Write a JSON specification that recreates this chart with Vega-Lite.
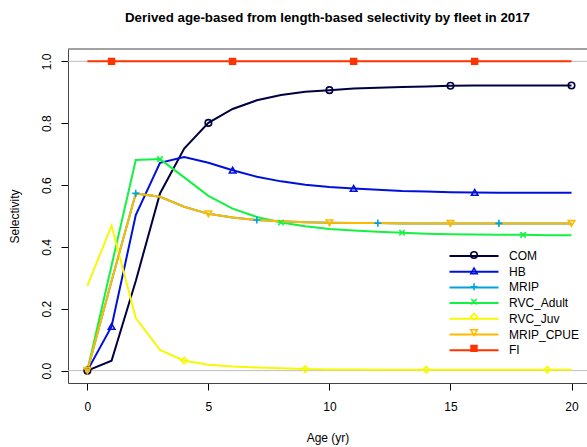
{
  "$schema": "https://vega.github.io/schema/vega-lite/v6.json",
  "width": 519,
  "height": 334,
  "autosize": {"type": "none"},
  "padding": {"left": 68, "top": 49, "right": 0, "bottom": 64},
  "background": "white",
  "config": {
    "view": {"stroke": null},
    "font": "Liberation Sans",
    "axis": {"grid": false, "labelFont": "Liberation Sans", "titleFont": "Liberation Sans", "labelColor": "black", "titleColor": "black", "tickColor": "black", "domainColor": "#444444", "labelFontSize": 12, "titleFontSize": 12, "titleFontWeight": "normal", "tickSize": 7, "labelFlush": false, "labelOverlap": false},
    "legend": {"labelFont": "Liberation Sans", "labelFontSize": 12, "labelColor": "black", "padding": 0, "labelOffset": 29}
  },
  "title": {"text": "Derived age-based from length-based selectivity by fleet in 2017", "font": "Liberation Sans", "fontSize": 13.3, "fontWeight": "bold", "color": "black", "anchor": "middle", "baseline": "bottom", "offset": 10},
  "data": {"values": [
    {"fleet": "COM", "age": 0, "sel": 0}, {"fleet": "COM", "age": 1, "sel": 0.032}, {"fleet": "COM", "age": 2, "sel": 0.29}, {"fleet": "COM", "age": 3, "sel": 0.573}, {"fleet": "COM", "age": 4, "sel": 0.718}, {"fleet": "COM", "age": 5, "sel": 0.801}, {"fleet": "COM", "age": 6, "sel": 0.846}, {"fleet": "COM", "age": 7, "sel": 0.874}, {"fleet": "COM", "age": 8, "sel": 0.891}, {"fleet": "COM", "age": 9, "sel": 0.902}, {"fleet": "COM", "age": 10, "sel": 0.907}, {"fleet": "COM", "age": 11, "sel": 0.912}, {"fleet": "COM", "age": 12, "sel": 0.915}, {"fleet": "COM", "age": 13, "sel": 0.917}, {"fleet": "COM", "age": 14, "sel": 0.919}, {"fleet": "COM", "age": 15, "sel": 0.921}, {"fleet": "COM", "age": 16, "sel": 0.922}, {"fleet": "COM", "age": 17, "sel": 0.922}, {"fleet": "COM", "age": 18, "sel": 0.922}, {"fleet": "COM", "age": 19, "sel": 0.922}, {"fleet": "COM", "age": 20, "sel": 0.922},
    {"fleet": "HB", "age": 0, "sel": 0}, {"fleet": "HB", "age": 1, "sel": 0.143}, {"fleet": "HB", "age": 2, "sel": 0.503}, {"fleet": "HB", "age": 3, "sel": 0.672}, {"fleet": "HB", "age": 4, "sel": 0.691}, {"fleet": "HB", "age": 5, "sel": 0.672}, {"fleet": "HB", "age": 6, "sel": 0.648}, {"fleet": "HB", "age": 7, "sel": 0.627}, {"fleet": "HB", "age": 8, "sel": 0.612}, {"fleet": "HB", "age": 9, "sel": 0.601}, {"fleet": "HB", "age": 10, "sel": 0.594}, {"fleet": "HB", "age": 11, "sel": 0.589}, {"fleet": "HB", "age": 12, "sel": 0.585}, {"fleet": "HB", "age": 13, "sel": 0.581}, {"fleet": "HB", "age": 14, "sel": 0.579}, {"fleet": "HB", "age": 15, "sel": 0.577}, {"fleet": "HB", "age": 16, "sel": 0.576}, {"fleet": "HB", "age": 17, "sel": 0.575}, {"fleet": "HB", "age": 18, "sel": 0.575}, {"fleet": "HB", "age": 19, "sel": 0.575}, {"fleet": "HB", "age": 20, "sel": 0.575},
    {"fleet": "MRIP", "age": 0, "sel": 0}, {"fleet": "MRIP", "age": 1, "sel": 0.29}, {"fleet": "MRIP", "age": 2, "sel": 0.573}, {"fleet": "MRIP", "age": 3, "sel": 0.562}, {"fleet": "MRIP", "age": 4, "sel": 0.53}, {"fleet": "MRIP", "age": 5, "sel": 0.507}, {"fleet": "MRIP", "age": 6, "sel": 0.495}, {"fleet": "MRIP", "age": 7, "sel": 0.487}, {"fleet": "MRIP", "age": 8, "sel": 0.483}, {"fleet": "MRIP", "age": 9, "sel": 0.48}, {"fleet": "MRIP", "age": 10, "sel": 0.478}, {"fleet": "MRIP", "age": 11, "sel": 0.477}, {"fleet": "MRIP", "age": 12, "sel": 0.477}, {"fleet": "MRIP", "age": 13, "sel": 0.476}, {"fleet": "MRIP", "age": 14, "sel": 0.476}, {"fleet": "MRIP", "age": 15, "sel": 0.476}, {"fleet": "MRIP", "age": 16, "sel": 0.476}, {"fleet": "MRIP", "age": 17, "sel": 0.476}, {"fleet": "MRIP", "age": 18, "sel": 0.476}, {"fleet": "MRIP", "age": 19, "sel": 0.476}, {"fleet": "MRIP", "age": 20, "sel": 0.476},
    {"fleet": "RVC_Adult", "age": 0, "sel": 0}, {"fleet": "RVC_Adult", "age": 1, "sel": 0.34}, {"fleet": "RVC_Adult", "age": 2, "sel": 0.681}, {"fleet": "RVC_Adult", "age": 3, "sel": 0.684}, {"fleet": "RVC_Adult", "age": 4, "sel": 0.625}, {"fleet": "RVC_Adult", "age": 5, "sel": 0.565}, {"fleet": "RVC_Adult", "age": 6, "sel": 0.524}, {"fleet": "RVC_Adult", "age": 7, "sel": 0.497}, {"fleet": "RVC_Adult", "age": 8, "sel": 0.479}, {"fleet": "RVC_Adult", "age": 9, "sel": 0.467}, {"fleet": "RVC_Adult", "age": 10, "sel": 0.458}, {"fleet": "RVC_Adult", "age": 11, "sel": 0.453}, {"fleet": "RVC_Adult", "age": 12, "sel": 0.449}, {"fleet": "RVC_Adult", "age": 13, "sel": 0.446}, {"fleet": "RVC_Adult", "age": 14, "sel": 0.443}, {"fleet": "RVC_Adult", "age": 15, "sel": 0.441}, {"fleet": "RVC_Adult", "age": 16, "sel": 0.44}, {"fleet": "RVC_Adult", "age": 17, "sel": 0.439}, {"fleet": "RVC_Adult", "age": 18, "sel": 0.439}, {"fleet": "RVC_Adult", "age": 19, "sel": 0.438}, {"fleet": "RVC_Adult", "age": 20, "sel": 0.438},
    {"fleet": "RVC_Juv", "age": 0, "sel": 0.274}, {"fleet": "RVC_Juv", "age": 1, "sel": 0.469}, {"fleet": "RVC_Juv", "age": 2, "sel": 0.17}, {"fleet": "RVC_Juv", "age": 3, "sel": 0.067}, {"fleet": "RVC_Juv", "age": 4, "sel": 0.032}, {"fleet": "RVC_Juv", "age": 5, "sel": 0.019}, {"fleet": "RVC_Juv", "age": 6, "sel": 0.013}, {"fleet": "RVC_Juv", "age": 7, "sel": 0.01}, {"fleet": "RVC_Juv", "age": 8, "sel": 0.008}, {"fleet": "RVC_Juv", "age": 9, "sel": 0.005}, {"fleet": "RVC_Juv", "age": 10, "sel": 0.004}, {"fleet": "RVC_Juv", "age": 11, "sel": 0.004}, {"fleet": "RVC_Juv", "age": 12, "sel": 0.003}, {"fleet": "RVC_Juv", "age": 13, "sel": 0.003}, {"fleet": "RVC_Juv", "age": 14, "sel": 0.003}, {"fleet": "RVC_Juv", "age": 15, "sel": 0.003}, {"fleet": "RVC_Juv", "age": 16, "sel": 0.003}, {"fleet": "RVC_Juv", "age": 17, "sel": 0.003}, {"fleet": "RVC_Juv", "age": 18, "sel": 0.003}, {"fleet": "RVC_Juv", "age": 19, "sel": 0.003}, {"fleet": "RVC_Juv", "age": 20, "sel": 0.003},
    {"fleet": "MRIP_CPUE", "age": 0, "sel": 0}, {"fleet": "MRIP_CPUE", "age": 1, "sel": 0.29}, {"fleet": "MRIP_CPUE", "age": 2, "sel": 0.573}, {"fleet": "MRIP_CPUE", "age": 3, "sel": 0.562}, {"fleet": "MRIP_CPUE", "age": 4, "sel": 0.53}, {"fleet": "MRIP_CPUE", "age": 5, "sel": 0.507}, {"fleet": "MRIP_CPUE", "age": 6, "sel": 0.495}, {"fleet": "MRIP_CPUE", "age": 7, "sel": 0.487}, {"fleet": "MRIP_CPUE", "age": 8, "sel": 0.483}, {"fleet": "MRIP_CPUE", "age": 9, "sel": 0.48}, {"fleet": "MRIP_CPUE", "age": 10, "sel": 0.478}, {"fleet": "MRIP_CPUE", "age": 11, "sel": 0.477}, {"fleet": "MRIP_CPUE", "age": 12, "sel": 0.477}, {"fleet": "MRIP_CPUE", "age": 13, "sel": 0.476}, {"fleet": "MRIP_CPUE", "age": 14, "sel": 0.476}, {"fleet": "MRIP_CPUE", "age": 15, "sel": 0.476}, {"fleet": "MRIP_CPUE", "age": 16, "sel": 0.476}, {"fleet": "MRIP_CPUE", "age": 17, "sel": 0.476}, {"fleet": "MRIP_CPUE", "age": 18, "sel": 0.476}, {"fleet": "MRIP_CPUE", "age": 19, "sel": 0.476}, {"fleet": "MRIP_CPUE", "age": 20, "sel": 0.476},
    {"fleet": "FI", "age": 0, "sel": 1}, {"fleet": "FI", "age": 1, "sel": 1}, {"fleet": "FI", "age": 2, "sel": 1}, {"fleet": "FI", "age": 3, "sel": 1}, {"fleet": "FI", "age": 4, "sel": 1}, {"fleet": "FI", "age": 5, "sel": 1}, {"fleet": "FI", "age": 6, "sel": 1}, {"fleet": "FI", "age": 7, "sel": 1}, {"fleet": "FI", "age": 8, "sel": 1}, {"fleet": "FI", "age": 9, "sel": 1}, {"fleet": "FI", "age": 10, "sel": 1}, {"fleet": "FI", "age": 11, "sel": 1}, {"fleet": "FI", "age": 12, "sel": 1}, {"fleet": "FI", "age": 13, "sel": 1}, {"fleet": "FI", "age": 14, "sel": 1}, {"fleet": "FI", "age": 15, "sel": 1}, {"fleet": "FI", "age": 16, "sel": 1}, {"fleet": "FI", "age": 17, "sel": 1}, {"fleet": "FI", "age": 18, "sel": 1}, {"fleet": "FI", "age": 19, "sel": 1}, {"fleet": "FI", "age": 20, "sel": 1}
  ]},
  "layer": [
    {
      "data": {"values": [{"ref": 0}, {"ref": 1}]},
      "mark": {"type": "rule", "color": "#bebebe", "strokeWidth": 1},
      "encoding": {"y": {"field": "ref", "type": "quantitative", "title": "Selectivity"}}
    },
    {
      "data": {"values": [{"ref": 1.04}]},
      "mark": {"type": "rule", "color": "#444444", "strokeWidth": 1},
      "encoding": {"y": {"field": "ref", "type": "quantitative", "title": "Selectivity"}}
    },
    {
      "mark": {"type": "line", "strokeWidth": 2},
      "encoding": {
        "x": {"field": "age", "type": "quantitative", "title": "Age (yr)", "scale": {"domain": [-0.8, 20.64], "nice": false, "zero": false},
          "axis": {"values": [0, 5, 10, 15, 20], "labelPadding": 11, "titlePadding": 20}},
        "y": {"field": "sel", "type": "quantitative", "title": "Selectivity", "scale": {"domain": [-0.04, 1.04], "nice": false, "zero": false},
          "axis": {"values": [0, 0.2, 0.4, 0.6, 0.8, 1.0], "format": ".1f", "labelAngle": 270, "labelAlign": "center", "labelBaseline": "bottom", "labelPadding": 8, "titlePadding": 19}},
        "stroke": {"field": "fleet", "type": "nominal",
          "scale": {"domain": ["COM", "HB", "MRIP", "RVC_Adult", "RVC_Juv", "MRIP_CPUE", "FI", "zz"], "range": ["#000040", "#0010DB", "#00A4DB", "#13F240", "#F6F905", "#FFBA00", "#FF3300", "#ffffff"]},
          "legend": {"title": null, "orient": "none", "legendX": 400, "legendY": 201, "rowPadding": 3.7, "values": ["COM", "HB", "MRIP", "RVC_Adult", "RVC_Juv", "MRIP_CPUE", "FI"], "symbolType": "M-7,0H7", "symbolSize": 49, "symbolStrokeWidth": 2, "zindex": 0}
        }
      }
    },
    {
      "transform": [{"filter": "(datum.age - indexof(['COM','HB','MRIP','RVC_Adult','RVC_Juv','MRIP_CPUE','FI'], datum.fleet)) % 5 == 0"}],
      "mark": {"type": "point", "filled": false, "strokeWidth": 1.6, "size": 42, "opacity": 1},
      "encoding": {
        "x": {"field": "age", "type": "quantitative", "title": "Age (yr)"},
        "y": {"field": "sel", "type": "quantitative", "title": "Selectivity"},
        "color": {"field": "fleet", "type": "nominal",
          "scale": {"domain": ["COM", "HB", "MRIP", "RVC_Adult", "RVC_Juv", "MRIP_CPUE", "FI"], "range": ["#000040", "#0010DB", "#00A4DB", "#13F240", "#F6F905", "#FFBA00", "#FF3300"]},
          "legend": {"title": null, "orient": "none", "legendX": 400, "legendY": 200, "rowPadding": 1.9, "symbolSize": 42, "symbolStrokeWidth": 1.6, "labelOpacity": 0, "zindex": 1}},
        "shape": {"field": "fleet", "type": "nominal",
          "scale": {"domain": ["COM", "HB", "MRIP", "RVC_Adult", "RVC_Juv", "MRIP_CPUE", "FI"], "range": ["circle", "triangle-up", "M0,-1.1V1.1M-1.1,0H1.1", "M-0.85,-0.85L0.85,0.85M-0.85,0.85L0.85,-0.85", "diamond", "triangle-down", "M-0.9,-0.9H0.9V0.9H-0.9ZM-0.9,-0.45H0.9M-0.9,0H0.9M-0.9,0.45H0.9"]},
          "legend": {"title": null, "orient": "none", "legendX": 400, "legendY": 200, "rowPadding": 1.9, "symbolSize": 42, "symbolStrokeWidth": 1.6, "labelOpacity": 0, "zindex": 1}}
      }
    }
  ]
}
